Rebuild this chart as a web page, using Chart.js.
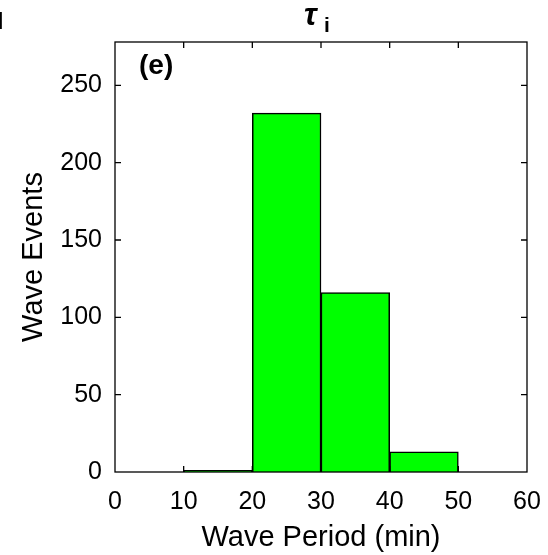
<!DOCTYPE html>
<html>
<head>
<meta charset="utf-8">
<script src="https://cdn.jsdelivr.net/npm/chart.js@4.4.1/dist/chart.umd.min.js"></script>
<style>
  body { margin: 0; background: #fff; }
  #wrap { width: 548px; height: 555px; }
</style>
</head>
<body>
<div id="wrap"><canvas id="histChart" width="548" height="555"></canvas></div>
<script>
// bin centres (min), counts per 10-min bin
const binCenters = [5, 15, 25, 35, 45, 55];
const counts = [0, 1, 232, 116, 13, 0];
const xTicks = [0, 10, 20, 30, 40, 50, 60];
const yTicks = [0, 50, 100, 150, 200, 250];

const FONT = "'Liberation Sans', Arial, Helvetica, sans-serif";

// box frame with inward ticks on all sides, plus panel labels
const framePlugin = {
  id: 'frame',
  afterDraw(chart) {
    const { ctx, chartArea: a, scales } = chart;
    const tl = 6;
    ctx.save();
    ctx.strokeStyle = '#000';
    ctx.lineWidth = 1.3;
    ctx.strokeRect(a.left, a.top, a.right - a.left, a.bottom - a.top);
    ctx.beginPath();
    xTicks.slice(1, -1).forEach(v => {
      const px = scales.x.getPixelForValue(v);
      ctx.moveTo(px, a.bottom); ctx.lineTo(px, a.bottom - tl);
      ctx.moveTo(px, a.top); ctx.lineTo(px, a.top + tl);
    });
    yTicks.slice(1).forEach(v => {
      const py = scales.y.getPixelForValue(v);
      ctx.moveTo(a.left, py); ctx.lineTo(a.left + tl, py);
      ctx.moveTo(a.right, py); ctx.lineTo(a.right - tl, py);
    });
    ctx.stroke();

    ctx.fillStyle = '#000';
    ctx.textBaseline = 'alphabetic';
    ctx.textAlign = 'left';
    ctx.font = `bold 28px ${FONT}`;
    ctx.fillText('(e)', a.left + 24, 74);
    ctx.font = `bold 23px ${FONT}`;
    ctx.fillText('I', -3, 29);
    ctx.font = `italic bold 31px ${FONT}`;
    ctx.fillText('τ', 304, 25);
    ctx.font = `bold 21px ${FONT}`;
    ctx.fillText('i', 324, 32);
    ctx.restore();
  }
};

new Chart(document.getElementById('histChart'), {
  type: 'bar',
  data: {
    datasets: [{
      data: binCenters.map((x, i) => ({ x, y: counts[i] })),
      backgroundColor: '#00ff00',
      borderColor: '#000',
      borderWidth: 1.5,
      barPercentage: 1,
      categoryPercentage: 1
    }]
  },
  options: {
    responsive: false,
    animation: false,
    layout: { padding: { top: 42, right: 21, left: 0, bottom: 0 } },
    plugins: { legend: { display: false }, tooltip: { enabled: false } },
    scales: {
      x: {
        type: 'linear',
        min: 0, max: 60,
        offset: false,
        afterBuildTicks: s => { s.ticks = xTicks.map(v => ({ value: v })); },
        afterFit: s => { s.height = 83; s.paddingRight = 0; s.paddingLeft = 0; },
        grid: { display: false },
        border: { display: false },
        ticks: { color: '#000', padding: 7, maxRotation: 0, font: { family: FONT, size: 25 } },
        title: { display: true, text: 'Wave Period (min)', color: '#000', padding: 0, font: { family: FONT, size: 29 } }
      },
      y: {
        min: 0, max: 278,
        afterBuildTicks: s => { s.ticks = yTicks.map(v => ({ value: v })); },
        afterFit: s => { s.width = 115; s.paddingTop = 0; s.paddingBottom = 0; },
        grid: { display: false },
        border: { display: false },
        ticks: { color: '#000', padding: 5, font: { family: FONT, size: 25 } },
        title: { display: true, text: 'Wave Events', color: '#000', padding: { top: 17, bottom: 0 }, font: { family: FONT, size: 29 } }
      }
    }
  },
  plugins: [framePlugin]
});
</script>
</body>
</html>
